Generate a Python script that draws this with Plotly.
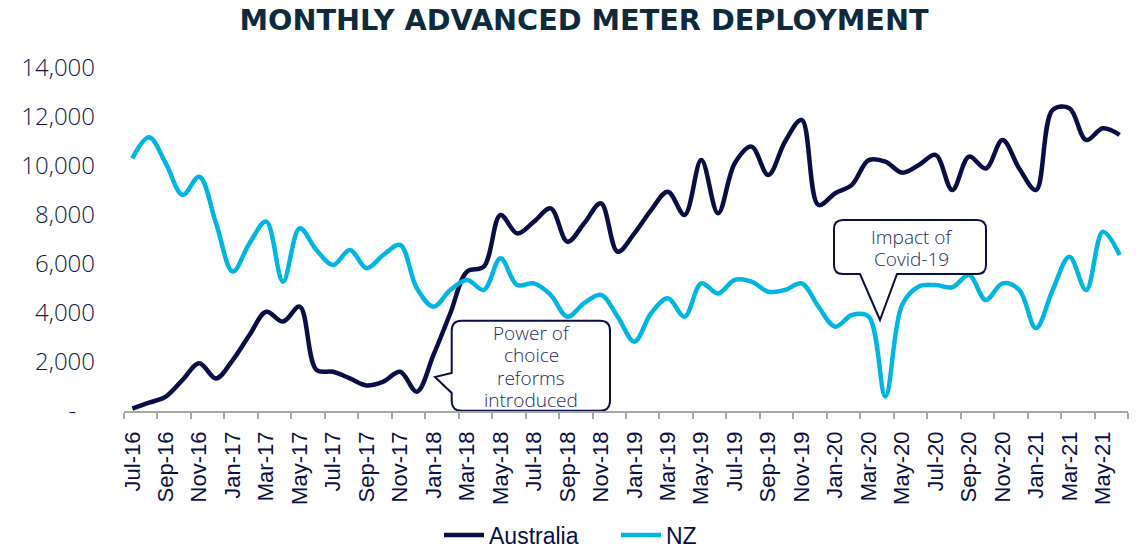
import plotly.graph_objects as go

# ---------------- data ----------------
months = ["Jul-16","Aug-16","Sep-16","Oct-16","Nov-16","Dec-16",
          "Jan-17","Feb-17","Mar-17","Apr-17","May-17","Jun-17",
          "Jul-17","Aug-17","Sep-17","Oct-17","Nov-17","Dec-17",
          "Jan-18","Feb-18","Mar-18","Apr-18","May-18","Jun-18",
          "Jul-18","Aug-18","Sep-18","Oct-18","Nov-18","Dec-18",
          "Jan-19","Feb-19","Mar-19","Apr-19","May-19","Jun-19",
          "Jul-19","Aug-19","Sep-19","Oct-19","Nov-19","Dec-19",
          "Jan-20","Feb-20","Mar-20","Apr-20","May-20","Jun-20",
          "Jul-20","Aug-20","Sep-20","Oct-20","Nov-20","Dec-20",
          "Jan-21","Feb-21","Mar-21","Apr-21","May-21","Jun-21"]

australia = [100, 340, 590, 1270, 1950, 1330,
             2080, 3100, 4050, 3650, 4260, 1680,
             1600, 1330, 1040, 1200, 1600, 790,
             2300, 3990, 5690, 5890, 8000, 7250,
             7730, 8270, 6910, 7660, 8480, 6500,
             7250, 8200, 8950, 8000, 10240, 8070,
             10110, 10790, 9630, 10990, 11880, 8410,
             8890, 9230, 10240, 10180, 9730, 10040,
             10450, 9020, 10380, 9900, 11060, 9900,
             9020, 12290, 12360, 11060, 11540, 11270]

nz = [10310, 11170, 10110, 8820, 9560, 7660,
      5690, 6850, 7730, 5280, 7460, 6570,
      5960, 6570, 5830, 6370, 6780, 5010,
      4260, 4940, 5350, 4940, 6230, 5140,
      5210, 4740, 3850, 4400, 4740, 3850,
      2830, 3990, 4600, 3850, 5210, 4800,
      5350, 5280, 4870, 4940, 5210, 4260,
      3440, 3920, 3850, 590, 4330, 5080,
      5140, 5050, 5550, 4530, 5210, 4940,
      3380, 4940, 6300, 4940, 7320, 6370]

y_ticks = [0, 2000, 4000, 6000, 8000, 10000, 12000, 14000]
y_ticktext = ["-\u00a0\u00a0\u00a0", "2,000", "4,000", "6,000", "8,000", "10,000", "12,000", "14,000"]

series_names = ["Australia", "NZ"]
series_colors = ["#0a0e46", "#00b5e2"]

power_lines = ["Power of", "choice", "reforms", "introduced"]
covid_lines = ["Impact of", "Covid-19"]

# ---------------- layout geometry ----------------
W, H = 1142, 549
ML, MR, MT, MB = 124, 14, 68, 138
N = len(months)
X_RANGE = [-0.5, N - 0.5]
Y_RANGE = [0, 14000]
plot_w = W - ML - MR
plot_h = H - MT - MB


def px2d(px, py):
    xd = X_RANGE[0] + (px - ML) / plot_w * (X_RANGE[1] - X_RANGE[0])
    yd = Y_RANGE[0] + (H - MB - py) / plot_h * (Y_RANGE[1] - Y_RANGE[0])
    return xd, yd


def build_path(cmds):
    out = []
    for c in cmds:
        op = c[0]
        conv = []
        for (px, py) in c[1:]:
            xd, yd = px2d(px, py)
            conv.append(f"{xd:.4f},{yd:.2f}")
        out.append(op + " " + " ".join(conv))
    return " ".join(out) + " Z"


def callout_left(x0, y0, x1, y1, r, t_top, tip, t_bot):
    return build_path([
        ("M", (x0 + r, y0)),
        ("L", (x1 - r, y0)),
        ("Q", (x1, y0), (x1, y0 + r)),
        ("L", (x1, y1 - r)),
        ("Q", (x1, y1), (x1 - r, y1)),
        ("L", (x0 + r, y1)),
        ("Q", (x0, y1), (x0, y1 - r)),
        ("L", (x0, t_bot)),
        ("L", tip),
        ("L", (x0, t_top)),
        ("L", (x0, y0 + r)),
        ("Q", (x0, y0), (x0 + r, y0)),
    ])


def callout_bottom(x0, y0, x1, y1, r, t_right, tip, t_left):
    return build_path([
        ("M", (x0 + r, y0)),
        ("L", (x1 - r, y0)),
        ("Q", (x1, y0), (x1, y0 + r)),
        ("L", (x1, y1 - r)),
        ("Q", (x1, y1), (x1 - r, y1)),
        ("L", (t_right, y1)),
        ("L", tip),
        ("L", (t_left, y1)),
        ("L", (x0 + r, y1)),
        ("Q", (x0, y1), (x0, y1 - r)),
        ("L", (x0, y0 + r)),
        ("Q", (x0, y0), (x0 + r, y0)),
    ])


x_idx = list(range(N))

fig = go.Figure()
for name, vals, col in zip(series_names, [australia, nz], series_colors):
    fig.add_trace(go.Scatter(
        x=x_idx, y=vals, name=name, mode="lines",
        line=dict(color=col, width=4.5, shape="spline", smoothing=1.0),
        hoverinfo="skip",
    ))

navy = "#0a0e46"
txt_navy = "#262a5c"

power_path = callout_left(451.7, 320.7, 610, 410.7, 10, 373, (435, 377), 393)
covid_path = callout_bottom(834, 220, 986, 274, 9, 897, (880, 320), 860)

shapes = []
for p in [power_path, covid_path]:
    shapes.append(dict(type="path", path=p, xref="x", yref="y",
                       fillcolor="white", line=dict(color=navy, width=2),
                       layer="above"))

annotations = []
callout_font = dict(family="Open Sans", size=19, color=txt_navy, weight=300)
for k, t in enumerate(power_lines):
    ax, ay = px2d(531, 333 + 22.3 * k)
    annotations.append(dict(x=ax, y=ay, xref="x", yref="y", text=t, showarrow=False,
                            xanchor="center", yanchor="middle", font=callout_font))
for k, t in enumerate(covid_lines):
    ax, ay = px2d(911, 237 + 21.5 * k)
    annotations.append(dict(x=ax, y=ay, xref="x", yref="y", text=t, showarrow=False,
                            xanchor="center", yanchor="middle", font=callout_font))

fig.update_layout(
    width=W, height=H,
    margin=dict(l=ML, r=MR, t=MT, b=MB, autoexpand=False),
    paper_bgcolor="white", plot_bgcolor="white",
    title=dict(text="<b>MONTHLY ADVANCED METER DEPLOYMENT</b>",
               x=584 / W, xanchor="center", xref="container",
               y=1 - 20 / H, yanchor="middle", yref="container",
               font=dict(family="DejaVu Sans", size=28.7, color="#0e2a3d")),
    showlegend=True,
    legend=dict(orientation="h", x=(616 - ML) / plot_w, xanchor="center",
                y=-(535 - (H - MB)) / plot_h, yanchor="middle",
                font=dict(family="Liberation Sans", size=23, color=navy),
                itemwidth=40, entrywidth=122, entrywidthmode="pixels",
                traceorder="normal", tracegroupgap=0),
    shapes=shapes,
    annotations=annotations,
)

fig.update_xaxes(
    range=X_RANGE,
    tickmode="array",
    tickvals=x_idx[::2],
    ticktext=months[::2],
    tickangle=-90,
    ticks="",
    ticklabelstandoff=10,
    tickfont=dict(family="Liberation Sans", size=22, color=navy),
    showgrid=False, zeroline=False,
    showline=True, linecolor="#a6a6a6", linewidth=1.5,
    minor=dict(tickmode="linear", tick0=-0.5, dtick=2, ticks="outside",
               ticklen=6, tickwidth=1.5, tickcolor="#a6a6a6", showgrid=False),
)
fig.update_yaxes(
    range=Y_RANGE,
    tickmode="array",
    tickvals=y_ticks,
    ticktext=y_ticktext,
    ticks="",
    ticklabelstandoff=28,
    tickfont=dict(family="Open Sans", size=24, color="#101848", weight=300),
    showgrid=False, zeroline=False, showline=False,
)

fig.write_html("out.html",
               config={"displayModeBar": False},
               post_script="document.body.style.margin='0px';document.body.style.overflow='hidden';")
